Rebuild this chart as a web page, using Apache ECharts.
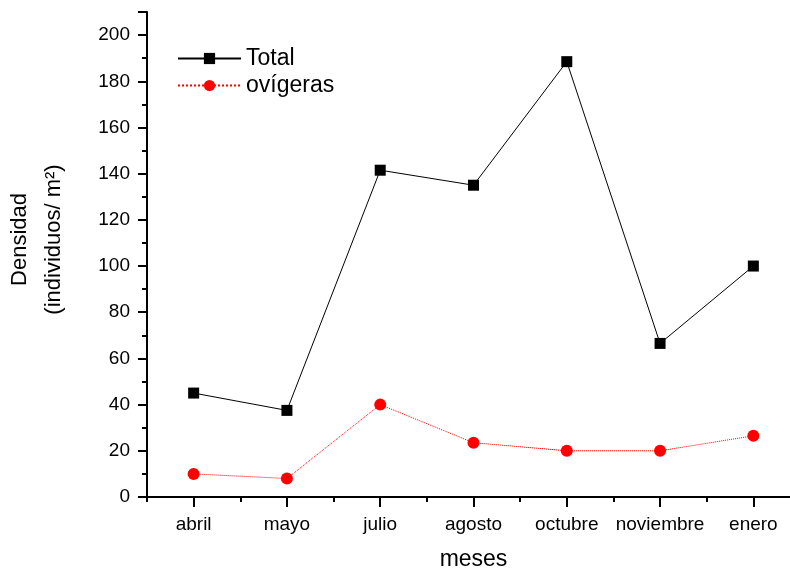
<!DOCTYPE html>
<html>
<head>
<meta charset="utf-8">
<script src="https://cdn.jsdelivr.net/npm/echarts@6/dist/echarts.min.js"></script>
<style>
  html, body { margin: 0; padding: 0; background: #fff; }
  #chart { width: 790px; height: 569px; }
</style>
</head>
<body>
<div id="chart"></div>
<script>
    var meses = ['abril', 'mayo', 'julio', 'agosto', 'octubre', 'noviembre', 'enero'];
    var total = [45, 37.5, 141.5, 135, 188.5, 66.5, 100];
    var ovigeras = [10, 8, 40, 23.5, 20, 20, 26.5];
    var yMax = 210;     // top of the axis line
    var yStep = 20;     // labelled tick step
    var yMinorStep = 10;

    var font = 'Liberation Sans, Arial, sans-serif';

    var option = {
        backgroundColor: '#fff',
        animation: false,
        grid: {
            left: 147,
            right: -10,
            top: 12,
            bottom: 72,
            outerBoundsMode: 'none'
        },
        legend: {
            orient: 'vertical',
            left: 172,
            top: 42,
            itemWidth: 63,
            itemHeight: 14,
            itemGap: 4,
            textStyle: { fontFamily: font, fontSize: 23, color: '#000' },
            data: ['Total', 'ovígeras']
        },
        xAxis: [
            {
                type: 'category',
                data: meses,
                position: 'bottom',
                name: 'meses',
                nameLocation: 'middle',
                nameGap: 51,
                nameTextStyle: { fontFamily: font, fontSize: 23, color: '#000' },
                axisLine: { lineStyle: { color: '#000', width: 2 } },
                axisTick: { show: true, interval: 0, alignWithLabel: true, length: 10, lineStyle: { color: '#000', width: 2 } },
                axisLabel: { interval: 0, fontFamily: font, fontSize: 19, color: '#000', margin: 18 },
                splitLine: { show: false }
            },
            {
                // unlabelled short ticks between the months
                type: 'category',
                data: meses,
                position: 'bottom',
                axisLine: { show: false },
                axisTick: { show: true, interval: 0, alignWithLabel: false, length: 5, lineStyle: { color: '#000', width: 2 } },
                axisLabel: { show: false },
                splitLine: { show: false }
            }
        ],
        yAxis: [
            {
                type: 'value',
                min: 0,
                max: yMax,
                interval: yMinorStep,
                name: 'Densidad\n(individuos/ m²)',
                nameLocation: 'middle',
                nameRotate: 90,
                nameGap: 76,
                nameTextStyle: { fontFamily: font, fontSize: 22, color: '#000', lineHeight: 34, padding: [0, 0, 0, 30] },
                axisLine: { show: true, lineStyle: { color: '#000', width: 2 } },
                axisTick: { show: true, length: 5, lineStyle: { color: '#000', width: 2 } },
                axisLabel: {
                    showMaxLabel: false,
                    fontFamily: font, fontSize: 19, color: '#000', margin: 17,
                    formatter: function (v) { return v % yStep === 0 ? String(v) : ''; }
                },
                splitLine: { show: false }
            },
            {
                // longer ticks at the labelled values
                type: 'value',
                min: 0,
                max: yMax,
                interval: yStep,
                position: 'left',
                axisLine: { show: false },
                axisTick: { show: true, length: 9, lineStyle: { color: '#000', width: 2 } },
                axisLabel: { show: false },
                splitLine: { show: false }
            }
        ],
        series: [
            {
                name: 'Total',
                type: 'line',
                data: total,
                symbol: 'rect',
                symbolSize: 11,
                itemStyle: { color: '#000' },
                lineStyle: { color: '#000', width: 1 }
            },
            {
                name: 'ovígeras',
                type: 'line',
                data: ovigeras,
                symbol: 'circle',
                symbolSize: 12,
                itemStyle: { color: '#ff0000' },
                lineStyle: { color: '#ff0000', width: 1, type: 'dotted' }
            }
        ]
    };

    var myChart = echarts.init(document.getElementById('chart'));
    myChart.setOption(option);
</script>
</body>
</html>
